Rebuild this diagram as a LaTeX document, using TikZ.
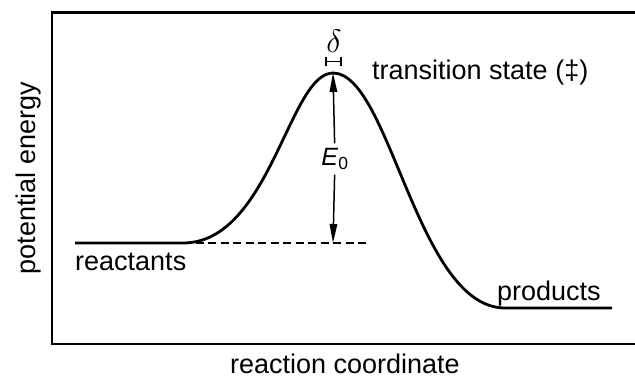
\documentclass[tikz,border=0pt]{standalone}
\usepackage{fontspec}
\setmainfont{Liberation Sans}
\usepackage{tikz}
\usetikzlibrary{arrows.meta}

\begin{document}
\begin{tikzpicture}[
  x=1pt, y=-1pt,
  lbl/.style={inner sep=0pt, font=\fontsize{27}{30}\selectfont},
  frame/.style={line width=2.6pt},
  pes/.style={line width=2.8pt},
  level/.style={line width=2.3pt, dash pattern=on 8pt off 4.5pt},
  en/.style={-{Triangle[length=19pt,width=7.5pt]}, line width=1.5pt},
  delta/.style={line width=1.5pt},
]
\useasboundingbox (0,0) rectangle (635,380);
% axes
\draw[frame] (636,12.5) -- (52,12.5) -- (52,344) -- (636,344);
% key points of the profile
\coordinate (rl) at (75,243);
\coordinate (rs) at (183,243);
\coordinate (ts) at (333,73);
\coordinate (ps) at (505,308);
\coordinate (pe) at (612,308);
\coordinate (dl) at (366,243);
\coordinate (base) at (333,243);
% energy profile
\draw[pes] (rl) -- (rs) .. controls (270,243) and (289,73) .. (ts)
  .. controls (390,73) and (417,308) .. (ps) -- (pe);
% reactant level
\draw[level] (rs) -- (dl);
% barrier height
\node[inner sep=0pt, minimum height=31pt, font=\fontsize{25}{28}\selectfont] (e0) at (335,159) {\textit{E}\textsubscript{0}};
\draw[en] (e0) -- (ts);
\draw[en] (e0) -- (base);
% width of the transition state
\draw[delta] (326,57) -- (326,66) (326,61.5) -- (341,61.5) (341,57) -- (341,66);
\node[inner sep=0pt, scale=1.3, font=\fontsize{24}{26}\selectfont] (dlt) at (334,41) {$\delta$};
% labels
\node[lbl, anchor=base west] (tslbl) at (372,79) {transition state (‡)};
\node[lbl, anchor=base west] (rlbl) at (75,270.5) {reactants};
\node[lbl, anchor=base west] (plbl) at (497,300) {products};
\node[lbl, anchor=base] (xlbl) at (345,373) {reaction coordinate};
\node[lbl, anchor=base, rotate=90] (ylbl) at (35,178) {potential energy};
\end{tikzpicture}
\end{document}
